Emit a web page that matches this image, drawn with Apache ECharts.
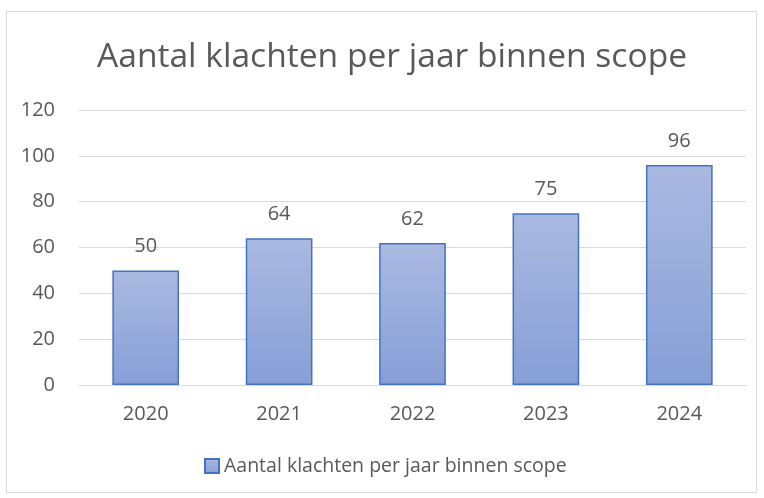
<!DOCTYPE html>
<html>
<head>
<meta charset="utf-8">
<script src="https://cdn.jsdelivr.net/npm/echarts@6/dist/echarts.min.js"></script>
<style>
  html, body { margin: 0; padding: 0; background: #fff; }
  #chart { width: 764px; height: 498px; }
</style>
</head>
<body>
<div id="chart"></div>
<script>
var years = ['2020', '2021', '2022', '2023', '2024'];
var klachten = [50, 64, 62, 75, 96];
var seriesName = 'Aantal klachten per jaar binnen scope';
var textColor = '#595959';
var font = 'Open Sans';

var chart = echarts.init(document.getElementById('chart'));
chart.setOption({
  animation: false,
  backgroundColor: '#fff',
  textStyle: { fontFamily: font },
  graphic: [{
    type: 'rect',
    shape: { x: 6.5, y: 11.5, width: 750, height: 481 },
    style: { fill: 'none', stroke: '#d9d9d9', lineWidth: 1 },
    silent: true
  }],
  title: {
    text: seriesName,
    left: 92,
    top: 35,
    textStyle: { fontFamily: font, fontSize: 33.6, fontWeight: 'normal', color: textColor }
  },
  legend: {
    bottom: 17,
    left: 199,
    itemWidth: 14,
    itemHeight: 14,
    itemGap: 4,
    textStyle: { fontFamily: font, fontSize: 19.5, color: textColor },
    data: [{ name: seriesName, icon: 'rect' }]
  },
  grid: { left: 79, right: 18, top: 110, bottom: 113 },
  xAxis: {
    type: 'category',
    data: years,
    axisLine: { lineStyle: { color: '#d9d9d9', width: 1 } },
    axisTick: { show: false },
    axisLabel: { color: textColor, fontSize: 20, margin: 19, fontFamily: font }
  },
  yAxis: {
    type: 'value',
    min: 0,
    max: 120,
    interval: 20,
    axisLine: { show: false },
    axisTick: { show: false },
    axisLabel: { color: textColor, fontSize: 20, margin: 24, fontFamily: font },
    splitLine: { lineStyle: { color: '#d9d9d9', width: 1 } }
  },
  series: [{
    name: seriesName,
    type: 'bar',
    data: klachten,
    barWidth: '50%',
    itemStyle: {
      color: new echarts.graphic.LinearGradient(0, 0, 0, 1, [
        { offset: 0, color: '#aab9e0' },
        { offset: 1, color: '#879fd7' }
      ]),
      borderColor: '#4472c4',
      borderWidth: 1.5
    },
    label: {
      show: true,
      position: 'top',
      distance: 14,
      color: textColor,
      fontSize: 20,
      fontFamily: font
    }
  }]
});
</script>
</body>
</html>
